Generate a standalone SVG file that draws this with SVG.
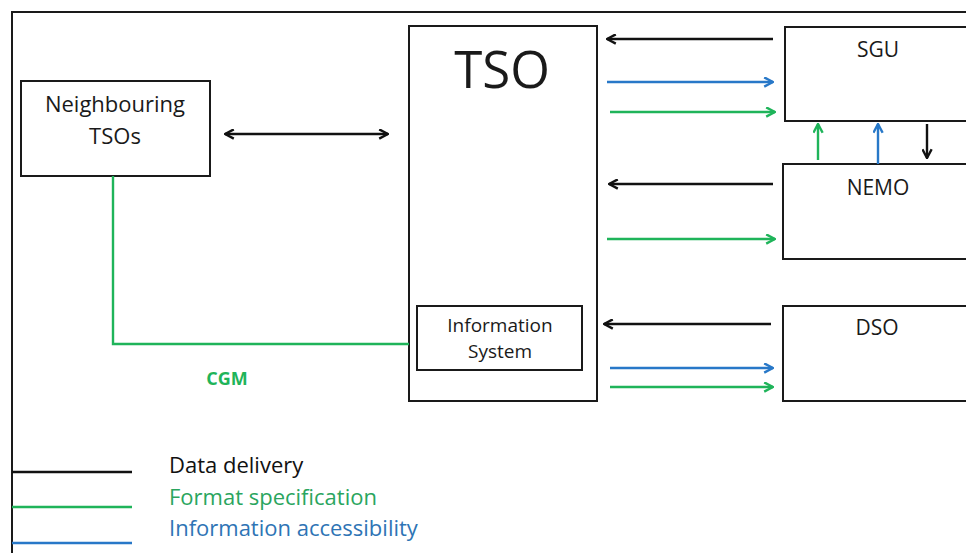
<svg xmlns="http://www.w3.org/2000/svg" width="966" height="553" viewBox="0 0 966 553">
<defs>
<style>
.box{fill:#fff;stroke:#1a1a1a;stroke-width:2}
.t{font-family:"Open Sans","Liberation Sans",sans-serif;fill:#1a1a1a;text-anchor:middle}
.k{stroke:#111;stroke-width:2.4;fill:none}
.g{stroke:#1fb45a;stroke-width:2.4;fill:none}
.b{stroke:#2878c8;stroke-width:2.4;fill:none}
</style>
<marker id="ak" viewBox="0 0 10 10" refX="9" refY="5" markerWidth="11" markerHeight="11" markerUnits="userSpaceOnUse" orient="auto-start-reverse"><path d="M1,0.8 L9,5 L1,9.2" fill="none" stroke="#111" stroke-width="2.2"/></marker>
<marker id="ag" viewBox="0 0 10 10" refX="9" refY="5" markerWidth="11" markerHeight="11" markerUnits="userSpaceOnUse" orient="auto"><path d="M1,0.8 L9,5 L1,9.2" fill="none" stroke="#1fb45a" stroke-width="2.2"/></marker>
<marker id="ab" viewBox="0 0 10 10" refX="9" refY="5" markerWidth="11" markerHeight="11" markerUnits="userSpaceOnUse" orient="auto"><path d="M1,0.8 L9,5 L1,9.2" fill="none" stroke="#2878c8" stroke-width="2.2"/></marker>
</defs>
<rect width="966" height="553" fill="#fff"/>
<path d="M12,553 V12 H966" fill="none" stroke="#1a1a1a" stroke-width="2"/>

<g id="neighbouring">
<rect class="box" x="21" y="81" width="189" height="95"/>
<text class="t" x="115" y="112" font-size="22">Neighbouring</text>
<text class="t" x="115" y="144" font-size="22">TSOs</text>
</g>
<g id="tso">
<rect class="box" x="409" y="26" width="188" height="375"/>
<text class="t" x="502" y="88" font-size="51">TSO</text>
</g>
<g id="infosystem">
<rect class="box" x="417" y="306" width="165" height="64"/>
<text class="t" x="500" y="332" font-size="19">Information</text>
<text class="t" x="500" y="358" font-size="19">System</text>
</g>
<g id="sgu">
<rect class="box" x="785" y="27" width="190" height="94"/>
<text class="t" x="878" y="57" font-size="21">SGU</text>
</g>
<g id="nemo">
<rect class="box" x="783" y="164" width="190" height="95"/>
<text class="t" x="878" y="195" font-size="21">NEMO</text>
</g>
<g id="dso">
<rect class="box" x="783" y="306" width="190" height="95"/>
<text class="t" x="877" y="335" font-size="21">DSO</text>
</g>

<g id="connectors">
<line class="k" x1="225" y1="134" x2="388" y2="134" marker-start="url(#ak)" marker-end="url(#ak)"/>
<line class="k" x1="773" y1="39" x2="607" y2="39" marker-end="url(#ak)"/>
<line class="b" x1="607" y1="82" x2="773" y2="82" marker-end="url(#ab)"/>
<line class="g" x1="610" y1="112" x2="775" y2="112" marker-end="url(#ag)"/>
<line class="g" x1="818" y1="160" x2="818" y2="124" marker-end="url(#ag)"/>
<line class="b" x1="878" y1="164" x2="878" y2="124" marker-end="url(#ab)"/>
<line class="k" x1="927" y1="124" x2="927" y2="158" marker-end="url(#ak)"/>
<line class="k" x1="773" y1="184" x2="609" y2="184" marker-end="url(#ak)"/>
<line class="g" x1="607" y1="239" x2="775" y2="239" marker-end="url(#ag)"/>
<line class="k" x1="771" y1="324" x2="604" y2="324" marker-end="url(#ak)"/>
<line class="b" x1="610" y1="368" x2="773" y2="368" marker-end="url(#ab)"/>
<line class="g" x1="610" y1="387" x2="773" y2="387" marker-end="url(#ag)"/>
<path class="g" d="M113,176 V344 H409"/>
<text x="227" y="385" font-family="'Open Sans','Liberation Sans',sans-serif" font-size="18" font-weight="bold" fill="#1fb45a" text-anchor="middle">CGM</text>
</g>

<g id="legend" font-family="'Open Sans','Liberation Sans',sans-serif" font-size="22">
<line x1="12" y1="472" x2="132" y2="472" stroke="#111" stroke-width="2.4"/>
<line x1="12" y1="507" x2="132" y2="507" stroke="#1fb45a" stroke-width="2.4"/>
<line x1="12" y1="543" x2="132" y2="543" stroke="#2878c8" stroke-width="2.4"/>
<text x="169" y="473" fill="#111">Data delivery</text>
<text x="169" y="505" fill="#2aa55e">Format specification</text>
<text x="169" y="536" fill="#2e74b5">Information accessibility</text>
</g>
</svg>
